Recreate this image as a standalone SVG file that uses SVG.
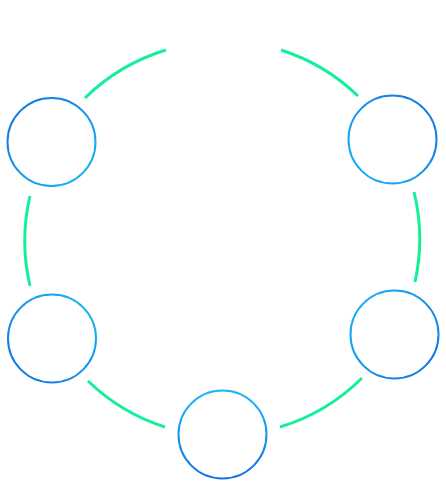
<svg xmlns="http://www.w3.org/2000/svg" width="446" height="486" viewBox="0 0 446 486">
<style>
.arc{fill:none;stroke:#14f09a;stroke-width:3;stroke-linecap:butt}
.node{fill:#ffffff;stroke-width:2}
.icon{fill:none;stroke:#ffffff;stroke-width:1.5}
</style>
<defs>
<linearGradient id="gTL" x1="0" y1="0" x2="1" y2="1"><stop offset="0" stop-color="#1570e0"/><stop offset="1" stop-color="#18b8f8"/></linearGradient>
<linearGradient id="gTR" x1="1" y1="0" x2="0" y2="1"><stop offset="0" stop-color="#1570e0"/><stop offset="1" stop-color="#18b8f8"/></linearGradient>
<linearGradient id="gBL" x1="0" y1="1" x2="1" y2="0"><stop offset="0" stop-color="#1570e0"/><stop offset="1" stop-color="#18b8f8"/></linearGradient>
<linearGradient id="gBR" x1="1" y1="1" x2="0" y2="0"><stop offset="0" stop-color="#1570e0"/><stop offset="1" stop-color="#18b8f8"/></linearGradient>
<linearGradient id="gB" x1="0" y1="1" x2="0" y2="0"><stop offset="0" stop-color="#1570e0"/><stop offset="1" stop-color="#18b8f8"/></linearGradient>
</defs>
<rect width="446" height="486" fill="#ffffff"/>
<g id="connectors">
<path class="arc" d="M85,98 A197,197 0 0 1 166,50"/>
<path class="arc" d="M281,50 A197,197 0 0 1 358,96"/>
<path class="arc" d="M414,192 A197,197 0 0 1 415,282"/>
<path class="arc" d="M362,378 A197,197 0 0 1 280,427"/>
<path class="arc" d="M165,427 A197,197 0 0 1 88,381"/>
<path class="arc" d="M30,286 A197,197 0 0 1 30,196"/>
</g>
<g id="node-top">
<path class="icon" d="M182,24 L182,62 M186,25 L216,12 L250,26 L220,42 Z M190,38 L190,66 M198,42 L198,70 M206,46 L206,74 M220,42 L220,76 L250,62 L250,26"/>
</g>
<g id="node-top-right"><circle class="node" cx="392.5" cy="139.5" r="44" stroke="url(#gTR)"/></g>
<g id="node-bottom-right"><circle class="node" cx="394.5" cy="334.5" r="44" stroke="url(#gBR)"/></g>
<g id="node-bottom"><circle class="node" cx="222.5" cy="434.5" r="44" stroke="url(#gB)"/></g>
<g id="node-bottom-left"><circle class="node" cx="52" cy="338.5" r="44" stroke="url(#gBL)"/></g>
<g id="node-top-left"><circle class="node" cx="51.5" cy="142" r="44" stroke="url(#gTL)"/></g>
</svg>
